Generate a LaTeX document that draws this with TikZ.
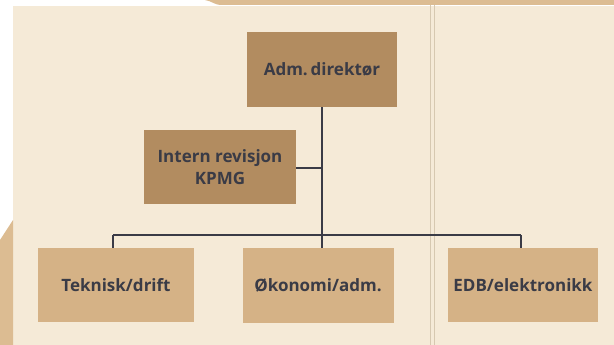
\documentclass[tikz,border=0pt]{standalone}
\usepackage{fontspec}
\setmainfont{Open Sans}
\definecolor{paper}{HTML}{F5EAD7}
\definecolor{edge}{HTML}{DCBC92}
\definecolor{boxdark}{HTML}{B28C60}
\definecolor{boxlight}{HTML}{D5B286}
\definecolor{ink}{HTML}{3A3B46}
\definecolor{fold}{HTML}{D6C8B0}
\tikzset{
  orgbox/.style={rectangle, inner sep=0pt, text=ink, font=\bfseries\fontsize{17}{22}\selectfont, align=center},
  topbox/.style={orgbox, fill=boxdark},
  unitbox/.style={orgbox, fill=boxlight},
  link/.style={draw=ink, line width=1.8pt}
}
\begin{document}
\begin{tikzpicture}[x=1pt,y=-1pt]
\useasboundingbox (0,0) rectangle (614,345);
% background
\fill[white] (0,0) rectangle (614,345);
\fill[paper] (13,6) rectangle (614,345);
\fill[edge] (205,0) .. controls (212,1) and (214,5) .. (222,5) -- (614,5) -- (614,0) -- cycle;
\fill[edge] (0,240) -- (13,220) -- (13,345) -- (0,345) -- cycle;
\draw[fold, line width=0.8pt] (430,5) -- (430,345);
\draw[fold, line width=0.8pt] (434,5) -- (434,345);
% nodes
\node[topbox, minimum width=150pt, minimum height=75pt] (adm) at (322,69.5) {Adm.\,direktør};
\node[topbox, minimum width=152pt, minimum height=74pt] (intern) at (220,167) {Intern revisjon\\KPMG};
\node[unitbox, minimum width=156pt, minimum height=74pt] (tek) at (116,285) {Teknisk/drift};
\node[unitbox, minimum width=151pt, minimum height=75pt] (oko) at (318,285.5) {Økonomi/adm.};
\node[unitbox, minimum width=150pt, minimum height=74pt] (edb) at (523,285) {EDB/elektronikk};
\coordinate (busL) at (113,235);
\coordinate (busR) at (521,235);
\coordinate (join) at (322,168);
% connectors
\draw[link] (adm.south) -- (adm.south |- oko.north);
\draw[link] (intern.east |- join) -- (join);
\draw[link] (busL) -- (busR);
\draw[link] (busL) -- (busL |- tek.north);
\draw[link] (busR) -- (busR |- edb.north);
\end{tikzpicture}
\end{document}
